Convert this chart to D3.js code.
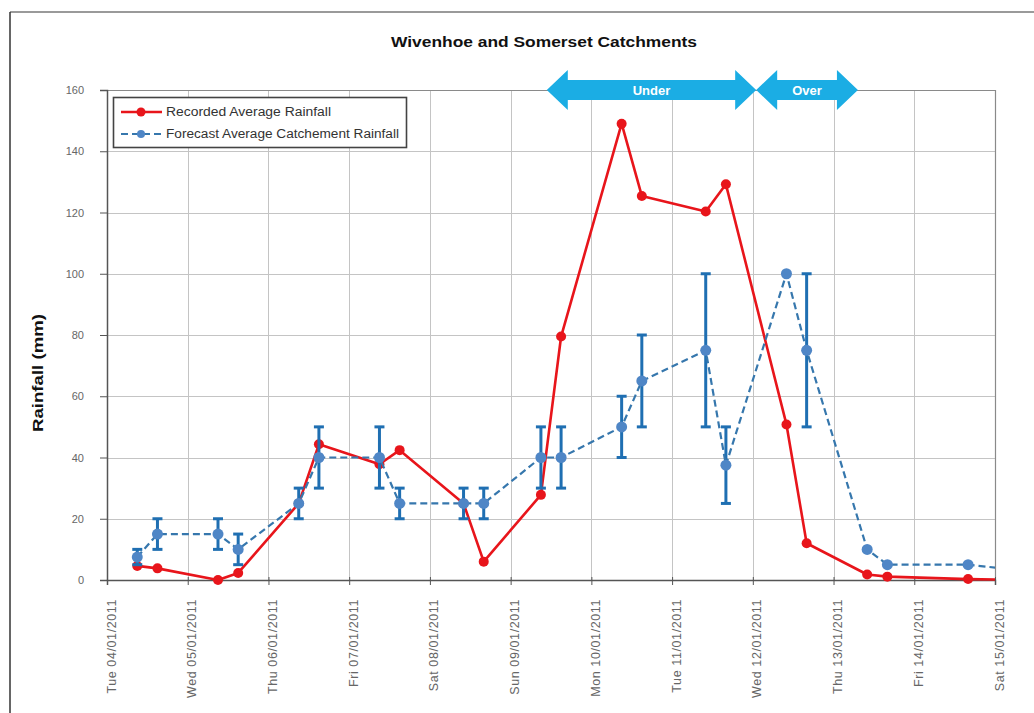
<!DOCTYPE html>
<html>
<head>
<meta charset="utf-8">
<script src="https://cdn.jsdelivr.net/npm/d3@7"></script>
<style>
  html, body { margin: 0; padding: 0; background: #fff; }
  svg { display: block; font-family: "Liberation Sans", Arial, sans-serif; }
</style>
</head>
<body>
<svg id="chart" width="1034" height="713"></svg>
<script>
// Recorded average rainfall (mm) at each observation time
const recordedTimes = [
  "2011-01-04T09:00", "2011-01-04T15:00", "2011-01-05T09:00", "2011-01-05T15:00",
  "2011-01-06T09:00", "2011-01-06T15:00", "2011-01-07T09:00", "2011-01-07T15:00",
  "2011-01-08T10:00", "2011-01-08T16:00", "2011-01-09T09:00", "2011-01-09T15:00",
  "2011-01-10T09:00", "2011-01-10T15:00", "2011-01-11T10:00", "2011-01-11T16:00",
  "2011-01-12T10:00", "2011-01-12T16:00", "2011-01-13T10:00", "2011-01-13T16:00",
  "2011-01-14T16:00", "2011-01-15T09:00"
];
const recordedValues = [
  4.6, 3.8, 0, 2.3,
  25, 44.3, 37.8, 42.4,
  25, 6, 27.8, 79.5,
  149, 125.4, 120.3, 129.2,
  50.8, 12, 1.8, 1.1,
  0.3, 0
];

// Forecast average catchment rainfall (mm) with forecast range
const forecastTimes = [
  "2011-01-04T09:00", "2011-01-04T15:00", "2011-01-05T09:00", "2011-01-05T15:00",
  "2011-01-06T09:00", "2011-01-06T15:00", "2011-01-07T09:00", "2011-01-07T15:00",
  "2011-01-08T10:00", "2011-01-08T16:00", "2011-01-09T09:00", "2011-01-09T15:00",
  "2011-01-10T09:00", "2011-01-10T15:00", "2011-01-11T10:00", "2011-01-11T16:00",
  "2011-01-12T10:00", "2011-01-12T16:00", "2011-01-13T10:00", "2011-01-13T16:00",
  "2011-01-14T16:00", "2011-01-15T09:00"
];
const forecastValues = [
  7.5, 15, 15, 10,
  25, 40, 40, 25,
  25, 25, 40, 40,
  50, 65, 75, 37.5,
  100, 75, 10, 5,
  5, 3
];
const forecastLow = [
  5, 10, 10, 5,
  20, 30, 30, 20,
  20, 20, 30, 30,
  40, 50, 50, 25,
  null, 50, null, null,
  null, null
];
const forecastHigh = [
  10, 20, 20, 15,
  30, 50, 50, 30,
  30, 30, 50, 50,
  60, 80, 100, 50,
  null, 100, null, null,
  null, null
];

// Axis ticks
const dayTicks = [
  "2011-01-04", "2011-01-05", "2011-01-06", "2011-01-07", "2011-01-08", "2011-01-09",
  "2011-01-10", "2011-01-11", "2011-01-12", "2011-01-13", "2011-01-14", "2011-01-15"
];
const dayLabels = [
  "Tue 04/01/2011", "Wed 05/01/2011", "Thu 06/01/2011", "Fri 07/01/2011",
  "Sat 08/01/2011", "Sun 09/01/2011", "Mon 10/01/2011", "Tue 11/01/2011",
  "Wed 12/01/2011", "Thu 13/01/2011", "Fri 14/01/2011", "Sat 15/01/2011"
];
const yTicks = [0, 20, 40, 60, 80, 100, 120, 140, 160];

// Under / over forecast periods
const periodNames = ["Under", "Over"];
const periodStarts = ["2011-01-09T10:45", "2011-01-12T01:00"];
const periodEnds = ["2011-01-12T01:00", "2011-01-13T07:15"];

const seriesNames = ["Recorded Average Rainfall", "Forecast Average Catchement Rainfall"];

const parse = d3.isoParse;
const svg = d3.select("#chart");

const plotLeft = 107, plotRight = 995, plotTop = 90, plotBottom = 580;

const x = d3.scaleTime()
  .domain([parse(dayTicks[0]), parse(dayTicks[dayTicks.length - 1])])
  .range([plotLeft, plotRight]);
const y = d3.scaleLinear().domain([0, 160]).range([plotBottom, plotTop]);

// Outer frame
svg.append("line").attr("x1", 10).attr("x2", 1034).attr("y1", 12).attr("y2", 12)
  .attr("stroke", "#9a9a9a").attr("stroke-width", 2);
svg.append("line").attr("x1", 10).attr("x2", 10).attr("y1", 12).attr("y2", 713)
  .attr("stroke", "#333").attr("stroke-width", 1.5);

// Title
svg.append("text")
  .attr("x", 544).attr("y", 47)
  .attr("text-anchor", "middle")
  .attr("font-size", 14).attr("font-weight", "bold").attr("fill", "#111")
  .attr("textLength", 306).attr("lengthAdjust", "spacingAndGlyphs")
  .text("Wivenhoe and Somerset Catchments");

// Gridlines
const grid = svg.append("g").attr("stroke", "#c4c4c4").attr("stroke-width", 1);
grid.selectAll(".hg").data(yTicks.slice(1, -1)).join("line")
  .attr("x1", plotLeft).attr("x2", plotRight)
  .attr("y1", d => Math.round(y(d)) + 0.5).attr("y2", d => Math.round(y(d)) + 0.5);
grid.selectAll(".vg").data(dayTicks.slice(1, -1)).join("line")
  .attr("x1", d => Math.round(x(parse(d))) + 0.5).attr("x2", d => Math.round(x(parse(d))) + 0.5)
  .attr("y1", plotTop).attr("y2", plotBottom);

// Plot border (top and right)
svg.append("path")
  .attr("d", `M${plotLeft},${plotTop + 0.5}H${plotRight + 0.5}V${plotBottom}`)
  .attr("fill", "none").attr("stroke", "#8a8a8a").attr("stroke-width", 1.2);

// Y axis
const yAxis = d3.axisLeft(y).tickValues(yTicks).tickSize(7).tickPadding(16).tickFormat(d3.format("d"));
const gy = svg.append("g").attr("transform", `translate(${plotLeft},0)`).call(yAxis);
gy.select(".domain").attr("stroke", "#555").attr("stroke-width", 1.5);
gy.selectAll(".tick line").attr("stroke", "#555");
gy.selectAll(".tick text").attr("font-size", 11).attr("fill", "#666")
  .attr("font-family", "Liberation Sans, Arial, sans-serif");

// X axis
const xAxis = d3.axisBottom(x)
  .tickValues(dayTicks.map(parse))
  .tickSize(5)
  .tickFormat((d, i) => dayLabels[i]);
const gx = svg.append("g").attr("transform", `translate(0,${plotBottom})`).call(xAxis);
gx.select(".domain").attr("stroke", "#555").attr("stroke-width", 1.5);
gx.selectAll(".tick line").attr("stroke", "#555").attr("y1", -3);
gx.selectAll(".tick text")
  .attr("font-size", 12.5).attr("fill", "#666")
  .attr("font-family", "Liberation Sans, Arial, sans-serif")
  .attr("letter-spacing", 0.6)
  .attr("text-anchor", "end")
  .attr("dy", null)
  .attr("y", 0)
  .attr("transform", "translate(8,19) rotate(-90)");

// Y axis title
svg.append("text")
  .attr("transform", "translate(43,373) rotate(-90)")
  .attr("text-anchor", "middle")
  .attr("font-size", 14).attr("font-weight", "bold").attr("fill", "#111")
  .attr("textLength", 118).attr("lengthAdjust", "spacingAndGlyphs")
  .text("Rainfall (mm)");

// Clip for series so lines stop at the plot edge
svg.append("defs").append("clipPath").attr("id", "plotClip")
  .append("rect").attr("x", plotLeft - 8).attr("y", plotTop - 8)
  .attr("width", plotRight - plotLeft + 8).attr("height", plotBottom - plotTop + 16);

const plot = svg.append("g").attr("clip-path", "url(#plotClip)");

const recorded = recordedTimes.map((t, i) => ({ t: parse(t), v: recordedValues[i] }));
const forecast = forecastTimes.map((t, i) => ({
  t: parse(t), v: forecastValues[i], lo: forecastLow[i], hi: forecastHigh[i]
}));

const line = d3.line().x(d => x(d.t)).y(d => y(d.v));

const red = "#e8151b";
const blueLine = "#3677ad";
const blueMark = "#4f86c6";
const blueBar = "#1f6fb2";

// Recorded series
plot.append("path").datum(recorded)
  .attr("d", line).attr("fill", "none")
  .attr("stroke", red).attr("stroke-width", 2.6).attr("stroke-linejoin", "round");
plot.selectAll(".rec").data(recorded).join("circle")
  .attr("cx", d => x(d.t)).attr("cy", d => y(d.v)).attr("r", 5)
  .attr("fill", red);

// Forecast error bars
const bars = forecast.filter(d => d.lo != null);
const capW = 5;
const eb = plot.append("g").attr("stroke", blueBar).attr("stroke-width", 3);
eb.selectAll(".ebv").data(bars).join("line")
  .attr("x1", d => x(d.t)).attr("x2", d => x(d.t))
  .attr("y1", d => y(d.lo)).attr("y2", d => y(d.hi));
eb.selectAll(".ebh").data(bars).join("line")
  .attr("x1", d => x(d.t) - capW).attr("x2", d => x(d.t) + capW)
  .attr("y1", d => y(d.hi)).attr("y2", d => y(d.hi));
eb.selectAll(".ebl").data(bars).join("line")
  .attr("x1", d => x(d.t) - capW).attr("x2", d => x(d.t) + capW)
  .attr("y1", d => y(d.lo)).attr("y2", d => y(d.lo));

// Forecast series
plot.append("path").datum(forecast)
  .attr("d", line).attr("fill", "none")
  .attr("stroke", blueLine).attr("stroke-width", 2.2).attr("stroke-dasharray", "7,4");
plot.selectAll(".fc").data(forecast).join("circle")
  .attr("cx", d => x(d.t)).attr("cy", d => y(d.v)).attr("r", 5.5)
  .attr("fill", blueMark);

// Under / over arrows
const arrowColor = "#1badE4";
const shaftH = 10, headH = 20, headL = 21;
const yc = y(160);
periodNames.forEach((name, i) => {
  const x0 = x(parse(periodStarts[i])), x1 = x(parse(periodEnds[i]));
  const pts = [
    [x0, yc], [x0 + headL, yc - headH], [x0 + headL, yc - shaftH],
    [x1 - headL, yc - shaftH], [x1 - headL, yc - headH], [x1, yc],
    [x1 - headL, yc + headH], [x1 - headL, yc + shaftH],
    [x0 + headL, yc + shaftH], [x0 + headL, yc + headH]
  ];
  svg.append("polygon").attr("points", pts.map(p => p.join(",")).join(" "))
    .attr("fill", arrowColor);
  svg.append("text")
    .attr("x", (x0 + x1) / 2).attr("y", yc + 4.5)
    .attr("text-anchor", "middle")
    .attr("font-size", 13).attr("font-weight", "bold").attr("fill", "#fff")
    .text(name);
});

// Legend
const lg = svg.append("g");
lg.append("rect").attr("x", 113.5).attr("y", 97.5).attr("width", 293).attr("height", 50)
  .attr("fill", "#fff").attr("stroke", "#444").attr("stroke-width", 1.6);
const legendRows = [112, 134];
const legendLens = [165, 233];
seriesNames.forEach((name, i) => {
  const ly = legendRows[i];
  lg.append("line").attr("x1", 121).attr("x2", 162).attr("y1", ly).attr("y2", ly)
    .attr("stroke", i === 0 ? red : blueLine)
    .attr("stroke-width", i === 0 ? 2.6 : 2.2)
    .attr("stroke-dasharray", i === 0 ? null : "7,4");
  lg.append("circle").attr("cx", 141).attr("cy", ly).attr("r", i === 0 ? 4.5 : 4)
    .attr("fill", i === 0 ? red : blueMark);
  lg.append("text").attr("x", 166).attr("y", ly + 4)
    .attr("font-size", 12).attr("fill", "#333")
    .attr("textLength", legendLens[i]).attr("lengthAdjust", "spacingAndGlyphs")
    .text(name);
});
</script>
</body>
</html>
